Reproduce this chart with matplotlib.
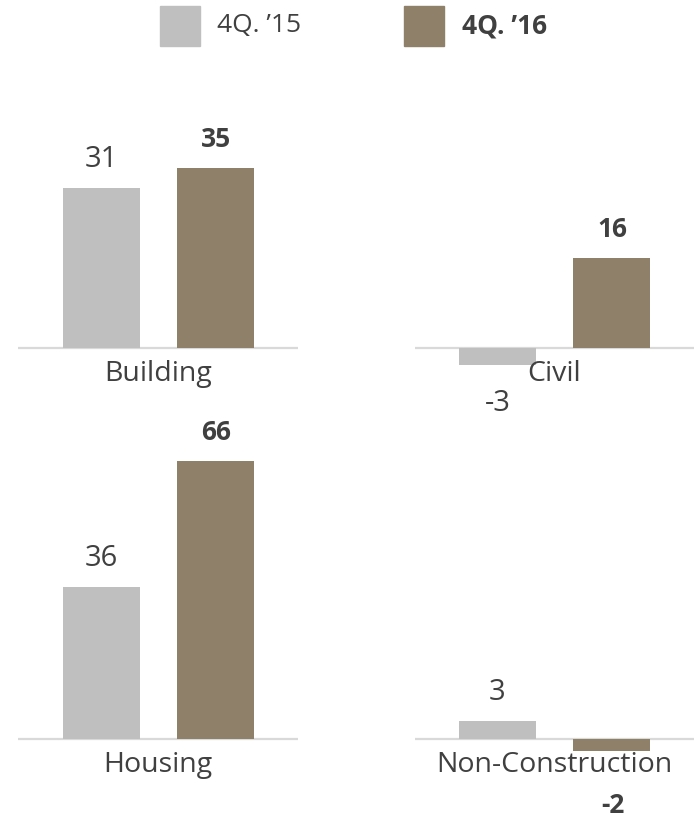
import matplotlib.pyplot as plt
from matplotlib.patches import Rectangle

plt.rcParams['font.family'] = ['Open Sans', 'DejaVu Sans']

# --- DANE ---
series_names = ['4Q. \u201915', '4Q. \u201916']
categories = ['Building', 'Civil', 'Housing', 'Non-Construction']
values_15 = [31, -3, 36, 3]
values_16 = [35, 16, 66, -2]

GRAY = '#bfbfbf'
BROWN = '#8f806a'
TEXT = '#404040'
AXIS = '#d9d9d9'

W, H = 694, 818
fig = plt.figure(figsize=(W / 100, H / 100), dpi=100)


def px_axes(x0, x1, y0, y1):
    # wspolrzedne w pikselach obrazka (y od gory)
    return fig.add_axes([x0 / W, 1 - y1 / H, (x1 - x0) / W, (y1 - y0) / H])


# panel: (x0, x1, gora, baseline, dol, px na jednostke, odstep etykiety ujemnej do linii bazowej tekstu)
panels = [
    (18, 298, 70, 348, 400, 5.15, 45),
    (415, 694, 70, 348, 400, 5.6, 46),
    (18, 298, 400, 739, 815, 4.21, 45),
    (415, 694, 400, 739, 815, 6.0, 62),
]

bar_px = 114.0  # odstep miedzy slupkami w pikselach
for i, (x0, x1, top, base, bot, scale, neg_off) in enumerate(panels):
    ax = px_axes(x0, x1, top, bot)
    half = (x1 - x0) / 2 / bar_px
    ax.set_xlim(0.5 - half, 0.5 + half)
    ax.set_ylim(-(bot - base) / scale, (base - top) / scale)
    ax.axis('off')

    vals = [values_15[i], values_16[i]]
    ax.bar([0, 1], vals, width=77 / bar_px, color=[GRAY, BROWN], zorder=2)
    ax.axhline(0, color=AXIS, linewidth=1.6, zorder=1)

    for j, v in enumerate(vals):
        off = 21 if v >= 0 else -neg_off
        ax.annotate(str(v), (j, v), xytext=(1 if j else 0, off), textcoords='offset pixels',
                    ha='center', va='baseline', color=TEXT,
                    fontsize=19 if j == 1 else 21,
                    fontweight='bold' if j == 1 else 'normal')

    ax.annotate(categories[i], (0.5, 0), xytext=(0, -33), textcoords='offset pixels',
                ha='center', va='baseline', fontsize=20.5, color=TEXT, zorder=3)

# --- LEGENDA ---
leg = px_axes(0, W, 0, 60)
leg.set_xlim(0, W)
leg.set_ylim(60, 0)
leg.axis('off')
for (sx, tx), name, col, fw in zip([(160, 217), (404, 462)], series_names,
                                   [GRAY, BROWN], ['normal', 'bold']):
    leg.add_patch(Rectangle((sx, 6), 40, 40, color=col))
    leg.text(tx, 26, name, ha='left', va='center', fontsize=19, color=TEXT, fontweight=fw)

fig.savefig('out.png', dpi=100)
